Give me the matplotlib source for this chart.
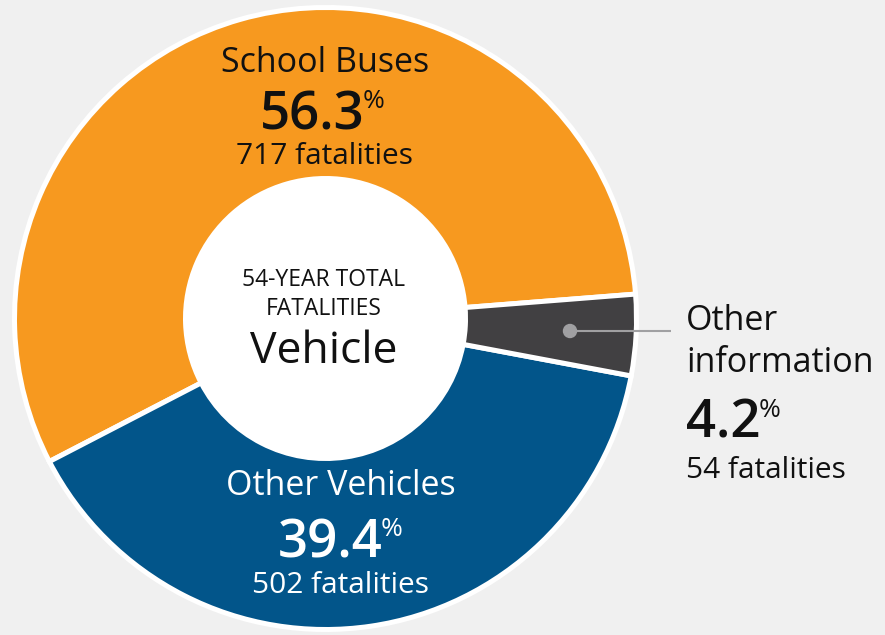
import matplotlib
matplotlib.use("Agg")
import matplotlib.pyplot as plt

categories = ["School Buses", "Other Vehicles", "Other information"]
shares = [56.3, 39.4, 4.2]
fatalities = [717, 502, 54]
colors = ["#F7991F", "#02558A", "#414042"]
center_title = ["54-YEAR TOTAL", "FATALITIES"]
center_label = "Vehicle"

plt.rcParams['font.family'] = ['Open Sans', 'DejaVu Sans']

W, H = 885, 635
fig = plt.figure(figsize=(W / 100, H / 100), dpi=100, facecolor="#F0F0F0")
ax = fig.add_axes([0, 0, 1, 1])

def Y(y):
    return H - y

cx, cy = 325.5, Y(318.5)
R = 311
r_in = 140
ax.pie(shares, colors=colors, startangle=4.5, counterclock=True,
       center=(cx, cy), radius=R, frame=True,
       wedgeprops=dict(width=R - r_in, edgecolor="white", linewidth=3.6))
ax.add_patch(plt.Circle((cx, cy), r_in + 1, color="white", zorder=3))
ax.set_xlim(0, W)
ax.set_ylim(0, H)
ax.set_aspect('equal')
ax.axis('off')

def pct_label(x, y, value, color, size, ha='center'):
    t = ax.text(x, Y(y), f"{value}", fontsize=size, fontweight='semibold',
                color=color, ha=ha, va='baseline', zorder=5)
    ax.annotate("%", xy=(1, 1), xycoords=t, xytext=(-1.5, 0),
                textcoords='offset points', fontsize=19, color=color,
                ha='left', va='top', zorder=5)
    return t

LBL = 24.5
SUB = 21.5
BIG = 38

# School Buses
ax.text(325, Y(72), categories[0], fontsize=LBL, color="#111111", ha='center', va='baseline', zorder=5)
pct_label(312, 129, shares[0], "#111111", BIG)
ax.text(325, Y(164), f"{fatalities[0]} fatalities", fontsize=SUB, color="#111111", ha='center', va='baseline', zorder=5)

# Other Vehicles
ax.text(341, Y(495), categories[1], fontsize=LBL, color="white", ha='center', va='baseline', zorder=5)
pct_label(330, 557, shares[1], "white", BIG)
ax.text(341, Y(593), f"{fatalities[1]} fatalities", fontsize=SUB, color="white", ha='center', va='baseline', zorder=5)

# Other information
word1, word2 = categories[2].split(" ")
ax.text(686, Y(330), word1, fontsize=LBL, color="#111111", ha='left', va='baseline', zorder=5)
ax.text(686, Y(372), word2, fontsize=LBL, color="#111111", ha='left', va='baseline', zorder=5)
pct_label(686, 438, shares[2], "#111111", BIG, ha='left')
ax.text(686, Y(478), f"{fatalities[2]} fatalities", fontsize=SUB, color="#111111", ha='left', va='baseline', zorder=5)

# connector
ax.plot([570, 671], [Y(331), Y(331)], color="#A0A0A2", lw=1.5, zorder=6, solid_capstyle='butt')
ax.add_patch(plt.Circle((570, Y(331)), 6.5, color="#A0A0A2", zorder=6))

# center
ax.text(324, Y(286), center_title[0], fontsize=16.5, color="#111111", ha='center', va='baseline', zorder=5)
ax.text(324, Y(315), center_title[1], fontsize=16.5, color="#111111", ha='center', va='baseline', zorder=5)
ax.text(324, Y(363), center_label, fontsize=32, color="#111111", ha='center', va='baseline', zorder=5)

fig.savefig("out.png", dpi=100, facecolor=fig.get_facecolor())
